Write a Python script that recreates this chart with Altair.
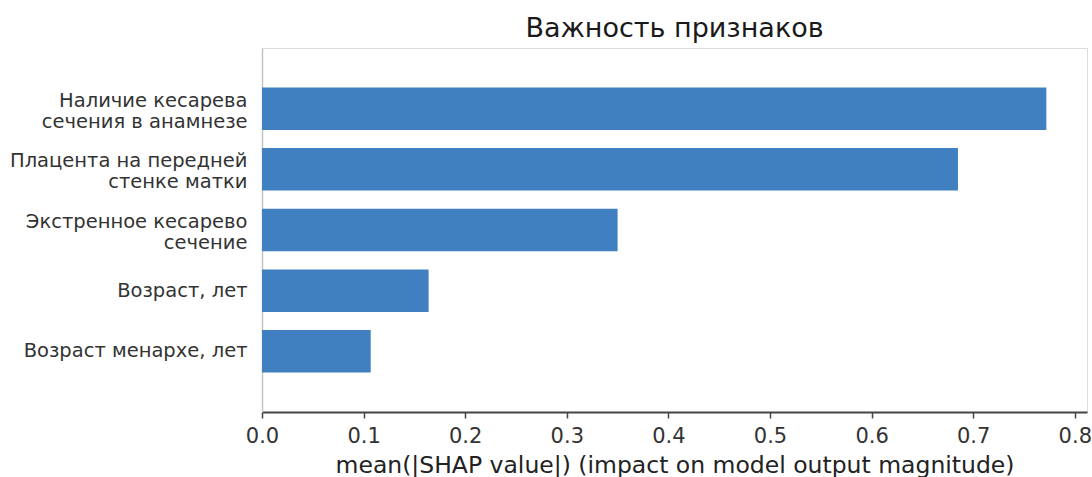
import altair as alt
import pandas as pd

# Mean absolute SHAP value per feature (top to bottom)
features = [
    "Наличие кесарева\nсечения в анамнезе",
    "Плацента на передней\nстенке матки",
    "Экстренное кесарево\nсечение",
    "Возраст, лет",
    "Возраст менархе, лет",
]
importance = [0.772, 0.685, 0.350, 0.164, 0.107]
x_ticks = [0.0, 0.1, 0.2, 0.3, 0.4, 0.5, 0.6, 0.7, 0.8]

df = pd.DataFrame({"feature": features, "importance": importance})

FONT = "DejaVu Sans"

chart = (
    alt.Chart(df)
    .mark_bar(color="#4180C0")
    .encode(
        x=alt.X(
            "importance:Q",
            scale=alt.Scale(domain=[0, 0.812], nice=False, zero=True),
            axis=alt.Axis(
                values=x_ticks,
                format=".1f",
                title="mean(|SHAP value|) (impact on model output magnitude)",
                grid=False,
                labelFlush=False,
                labelOverlap=False,
                labelFont=FONT,
                labelFontSize=21,
                labelColor="#333333",
                labelPadding=7,
                tickSize=6,
                tickColor="#444444",
                tickWidth=1.5,
                domainColor="#444444",
                domainWidth=1.8,
                titleFont=FONT,
                titleFontSize=23.5,
                titleFontWeight="normal",
                titleColor="#222222",
                titlePadding=7,
            ),
        ),
        y=alt.Y(
            "feature:N",
            sort=features,
            scale=alt.Scale(paddingInner=0.3, paddingOuter=0.65),
            axis=alt.Axis(
                title=None,
                labelExpr="split(datum.label, '\\n')",
                ticks=False,
                grid=False,
                labelLimit=0,
                labelFont=FONT,
                labelFontSize=19.5,
                labelColor="#333333",
                labelLineHeight=21,
                labelPadding=15,
                labelAlign="right",
                # two-line labels are centred on their bar
                labelOffset={
                    "condition": {"test": "indexof(datum.value, '\\n') >= 0", "value": -8},
                    "value": 0,
                },
                domainColor="#c4c4c4",
                domainWidth=1.5,
            ),
        ),
    )
    .properties(
        width=825,
        height=364,
        title=alt.Title(
            "Важность признаков",
            font=FONT,
            fontSize=27,
            fontWeight="normal",
            color="#1a1a1a",
            anchor="middle",
            offset=5,
        ),
        autosize=alt.AutoSizeParams(type="none"),
        padding={"left": 262, "top": 48, "right": 5, "bottom": 65},
    )
    .configure_view(stroke=None)
    .configure(background="white")
)

chart.save("out.html", embed_options={"renderer": "svg", "actions": False})
